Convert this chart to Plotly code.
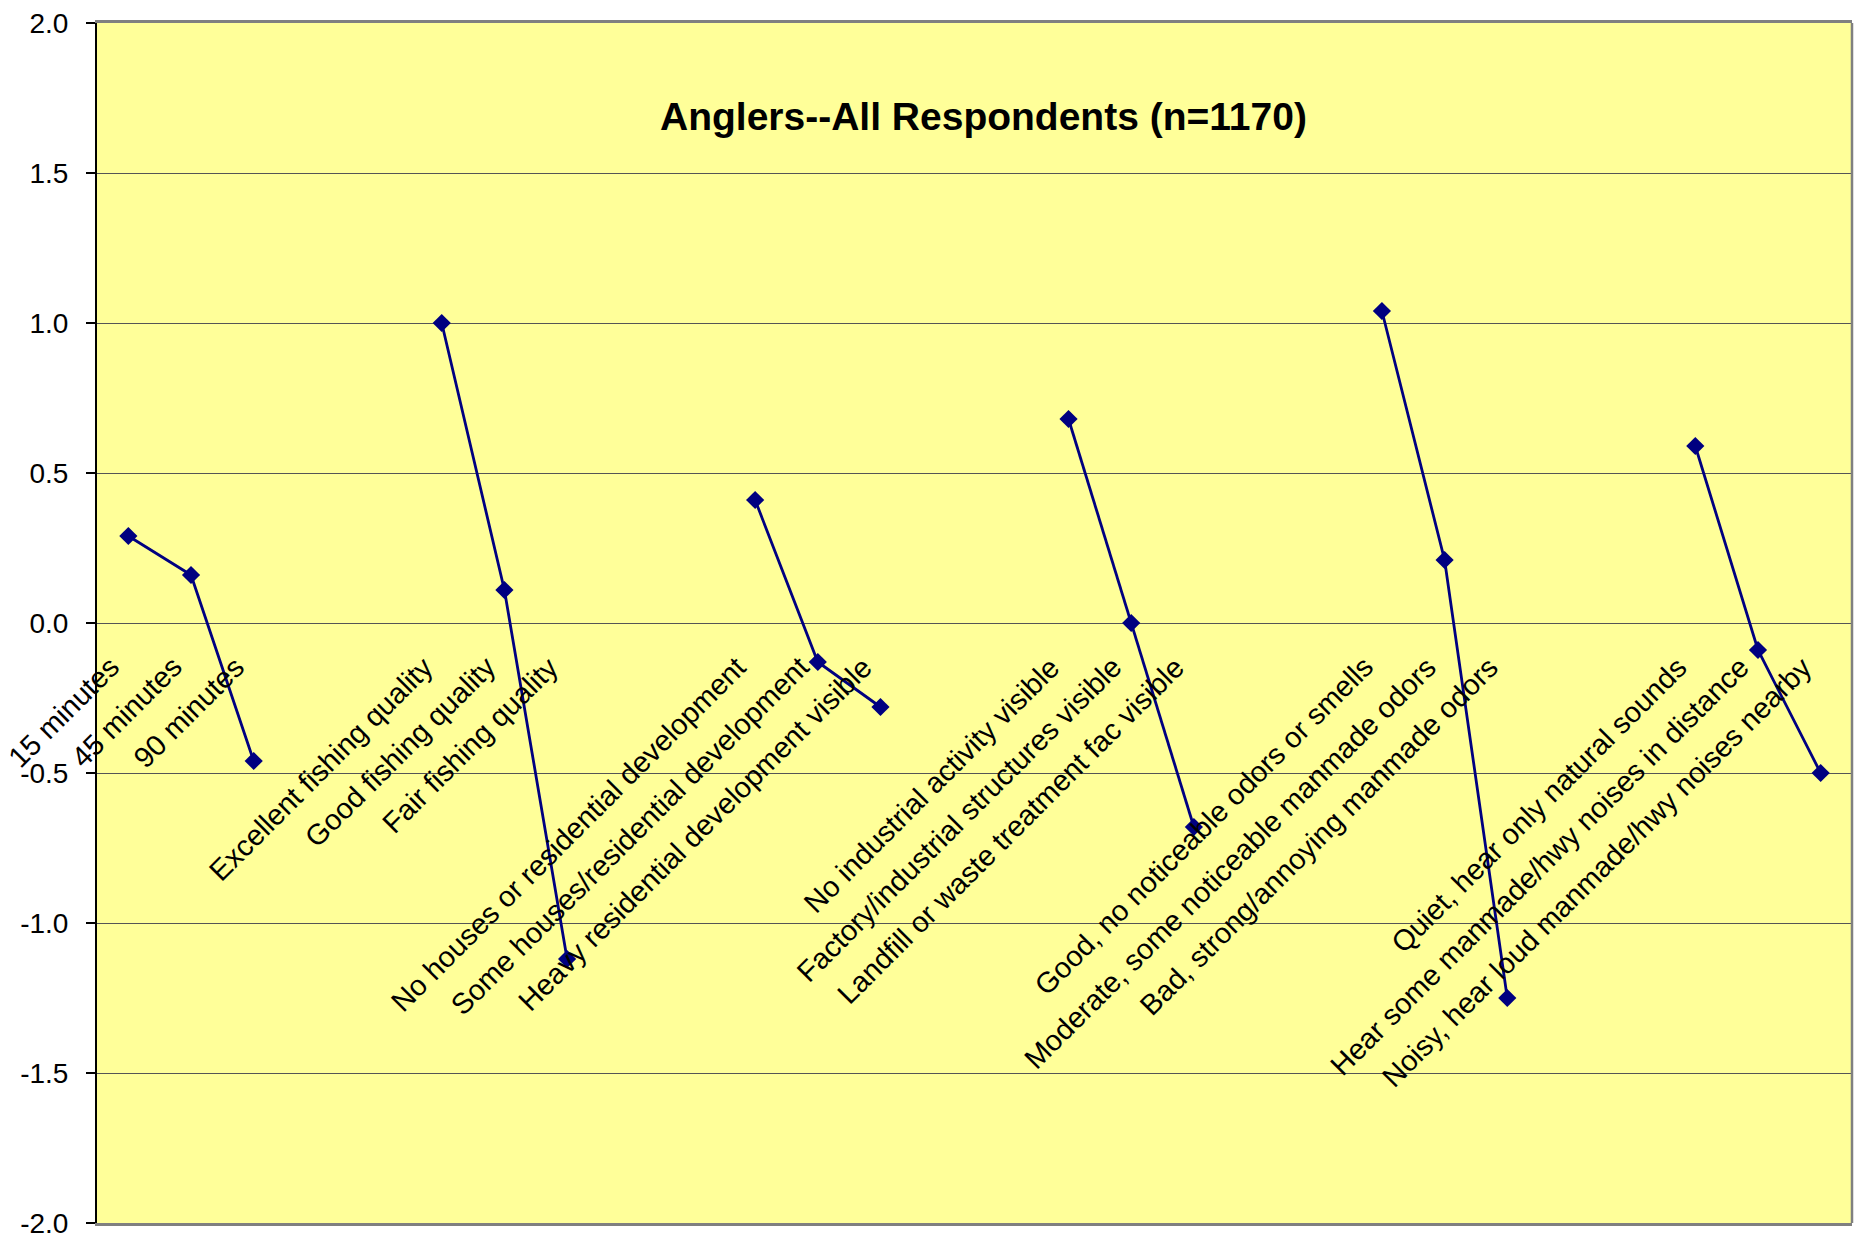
import plotly.graph_objects as go

# categorie (stringa vuota = spazio tra i gruppi, senza dati)
categories = [
    "15 minutes", "45 minutes", "90 minutes", "", "",
    "Excellent fishing quality", "Good fishing quality", "Fair fishing quality", "", "",
    "No houses or residential development", "Some houses/residential development",
    "Heavy residential development visible", "", "",
    "No industrial activity visible", "Factory/industrial structures visible",
    "Landfill or waste treatment fac visible", "", "",
    "Good, no noticeable odors or smells", "Moderate, some noticeable manmade odors",
    "Bad, strong/annoying manmade odors", "", "",
    "Quiet, hear only natural sounds", "Hear some manmade/hwy noises in distance",
    "Noisy, hear loud manmade/hwy noises nearby",
]

values = [
    0.29, 0.16, -0.46, None, None,
    1.00, 0.11, -1.12, None, None,
    0.41, -0.13, -0.28, None, None,
    0.68, 0.00, -0.68, None, None,
    1.04, 0.21, -1.25, None, None,
    0.59, -0.09, -0.50,
]

y_ticks = [-2.0, -1.5, -1.0, -0.5, 0.0, 0.5, 1.0, 1.5, 2.0]
y_tick_text = ["-2.0", "-1.5", "-1.0", "-0.5", "0.0", "0.5", "1.0", "1.5", "2.0"]

title = "Anglers--All Respondents (n=1170)"

FONT = "Liberation Sans, Arial, sans-serif"
x_pos = list(range(len(categories)))

fig = go.Figure()
fig.add_trace(go.Scatter(
    x=x_pos, y=values,
    mode="lines+markers",
    line=dict(color="#000080", width=2.8),
    marker=dict(symbol="diamond", size=14, color="#000080"),
    connectgaps=False,
    hoverinfo="skip",
))

# etichette delle categorie, ruotate, sotto la linea dello zero
for x, label in zip(x_pos, categories):
    if not label:
        continue
    fig.add_annotation(
        x=x, y=0, xref="x", yref="y",
        text=label, showarrow=False,
        textangle=-45, xanchor="right", yanchor="top",
        xshift=0, yshift=-25,
        font=dict(family=FONT, size=29, color="black"),
    )

fig.add_annotation(
    x=0.505, y=0.922, xref="paper", yref="paper",
    text="<b>" + title + "</b>", showarrow=False,
    xanchor="center", yanchor="middle",
    font=dict(family=FONT, size=39, color="black"),
)

# bordo destro grigio
fig.add_shape(type="line", xref="paper", yref="paper", x0=1, x1=1, y0=0, y1=1,
              line=dict(color="#808080", width=2.5))

# la pagina ha 8px di margine sul body: dimensioni compensate
fig.update_layout(
    width=1860, height=1229,
    margin=dict(l=89, r=16, t=12, b=14),
    paper_bgcolor="white",
    plot_bgcolor="#FFFF99",
    showlegend=False,
    font=dict(family=FONT, size=28, color="black"),
)
fig.update_xaxes(
    range=[-0.5, len(categories) - 0.5],
    showticklabels=False, showgrid=False, zeroline=False, ticks="",
    showline=True, mirror=True, linecolor="#808080", linewidth=2.5,
)
fig.update_yaxes(
    range=[-2, 2], automargin=False,
    tickmode="array", tickvals=y_ticks, ticktext=y_tick_text,
    ticks="outside", ticklen=9, tickwidth=1.5, tickcolor="black",
    ticklabelstandoff=12, ticklabeloverflow="allow",
    tickfont=dict(family=FONT, size=28, color="black"),
    showgrid=True, gridcolor="#555555", gridwidth=1,
    zeroline=False,
    showline=True, linecolor="black", linewidth=2,
)

fig.write_html("out.html")
